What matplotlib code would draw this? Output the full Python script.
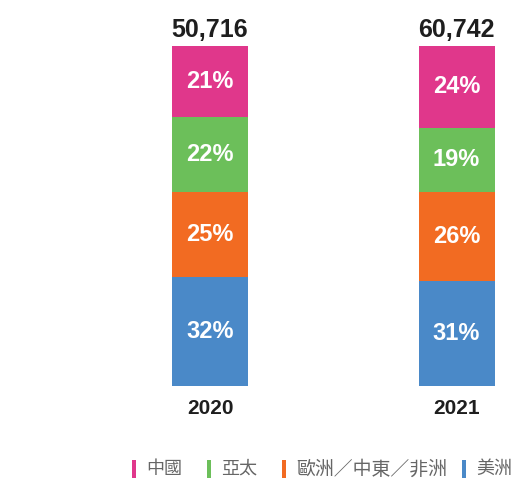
import matplotlib.pyplot as plt
from matplotlib.patches import Rectangle

years = ['2020', '2021']
totals = [50716, 60742]
regions = ['美洲', '歐洲／中東／非洲', '亞太', '中國']
shares = {
    '美洲': [32, 31],
    '歐洲／中東／非洲': [25, 26],
    '亞太': [22, 19],
    '中國': [21, 24],
}
colors = {
    '美洲': '#4a89c8',
    '歐洲／中東／非洲': '#f26b22',
    '亞太': '#6cbf5a',
    '中國': '#e0378b',
}
legend_order = ['中國', '亞太', '歐洲／中東／非洲', '美洲']

plt.rcParams['font.family'] = ['Liberation Sans', 'DejaVu Sans']

fig = plt.figure(figsize=(5.17, 4.80), dpi=100)
ax = fig.add_axes([0, 94 / 480, 1, 340 / 480])

x = [0, 1]
bottom = [0, 0]
for r in regions:
    vals = shares[r]
    ax.bar(x, vals, width=0.308, bottom=bottom, color=colors[r], linewidth=0)
    for i in range(2):
        ax.text(x[i], bottom[i] + vals[i] / 2, f'{vals[i]}%', ha='center', va='center',
                color='white', fontsize=17, fontweight='bold')
    bottom = [bottom[i] + vals[i] for i in range(2)]

for i in range(2):
    ax.text(x[i], bottom[i] + 1.2, f'{totals[i]:,}', ha='center', va='bottom',
            color='#1e1e1e', fontsize=18, fontweight='bold')
    ax.text(x[i], -3.8, years[i], ha='center', va='top',
            color='#1e1e1e', fontsize=15, fontweight='bold')

ax.set_xlim(-0.852, 1.245)
ax.set_ylim(0, 100)
ax.axis('off')

# legend laid out by hand (pixel positions from the left edge)
marker_x = [132, 207, 282, 462]
text_x = [146, 221, 296, 476]
cjk = ['Noto Sans CJK TC', 'DejaVu Sans']
for name, mx, tx in zip(legend_order, marker_x, text_x):
    fig.patches.append(Rectangle((mx / 517, 2 / 480), 4 / 517, 18 / 480,
                                 transform=fig.transFigure, color=colors[name], linewidth=0))
    size = 13 if name != '歐洲／中東／非洲' else 13.6
    fig.text(tx / 517, 11 / 480, name, ha='left', va='center', color='#666666',
             fontsize=size, family=cjk)

fig.savefig('out.png', dpi=100)
